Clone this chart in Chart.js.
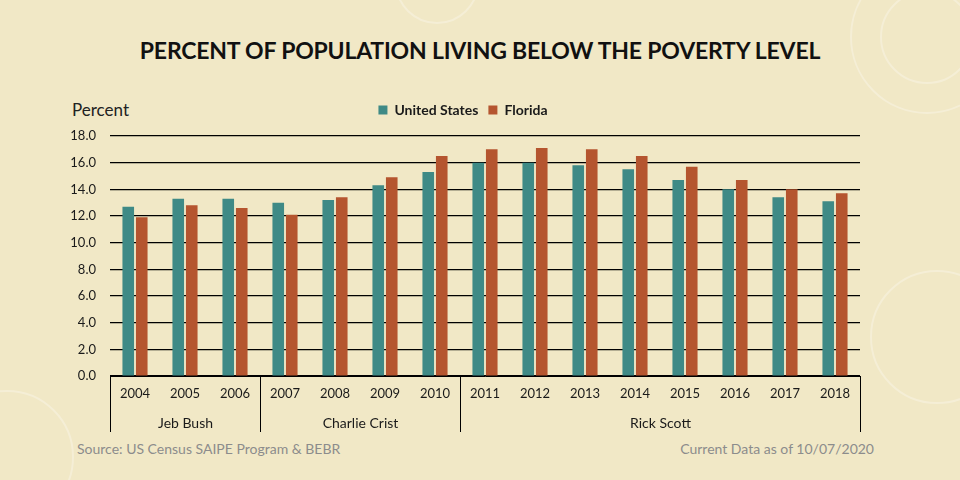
<!DOCTYPE html>
<html>
<head>
<meta charset="utf-8">
<script src="https://cdn.jsdelivr.net/npm/chart.js@4.4.1/dist/chart.umd.min.js"></script>
<style>
  html, body { margin: 0; padding: 0; background: #F1E8C6; }
  #wrap { position: relative; width: 960px; height: 480px; overflow: hidden; background: #F1E8C6; font-family: Lato, "Open Sans", sans-serif; }
  .ring { position: absolute; border-radius: 50%; border: 2px solid rgba(255,255,255,0.28); }
  #title { position: absolute; left: 0; width: 960px; top: 36px; text-align: center; font-weight: bold; font-size: 23px; color: #111; letter-spacing: -0.2px; }
  #unit { position: absolute; left: 72px; top: 99px; font-size: 17px; color: #222; }
  #source { position: absolute; left: 77px; top: 440px; font-size: 14px; color: #8c8c8c; }
  #asof { position: absolute; right: 86px; top: 440px; font-size: 14px; color: #8c8c8c; }
  canvas { position: absolute; left: 0; top: 0; }
</style>
</head>
<body>
<div id="wrap">
  <div class="ring" style="left:850px;top:-40px;width:150px;height:150px;"></div>
  <div class="ring" style="left:880px;top:-10px;width:90px;height:90px;"></div>
  <div class="ring" style="left:870px;top:270px;width:130px;height:130px;"></div>
  <div class="ring" style="left:-60px;top:390px;width:130px;height:130px;"></div>
  <div class="ring" style="left:395px;top:-60px;width:80px;height:80px;"></div>
  <div id="title">PERCENT OF POPULATION LIVING BELOW THE POVERTY LEVEL</div>
  <div id="unit">Percent</div>
  <div id="source">Source: US Census SAIPE Program &amp; BEBR</div>
  <div id="asof">Current Data as of 10/07/2020</div>
  <canvas id="povertyChart" width="960" height="480"></canvas>
</div>
<script>
// 年份与两条数据序列
const years = ['2004', '2005', '2006', '2007', '2008', '2009', '2010', '2011', '2012', '2013', '2014', '2015', '2016', '2017', '2018'];
const usValues = [12.7, 13.3, 13.3, 13.0, 13.2, 14.3, 15.3, 16.0, 16.0, 15.8, 15.5, 14.7, 14.0, 13.4, 13.1];
const flValues = [11.9, 12.8, 12.6, 12.1, 13.4, 14.9, 16.5, 17.0, 17.1, 17.0, 16.5, 15.7, 14.7, 14.0, 13.7];

// 州长分组（每组包含的年份数）
const governors = ['Jeb Bush', 'Charlie Crist', 'Rick Scott'];
const governorYears = [3, 4, 8];

// y轴刻度
const yMin = 0;
const yMax = 18;
const yStep = 2;

const textColor = '#1a1a1a';
const fontFamily = 'Lato, "Open Sans", sans-serif';

// 图例下方留出额外空间
const legendMargin = {
    id: 'legendMargin',
    beforeInit(chart) {
        const fit = chart.legend.fit;
        chart.legend.fit = function () {
            fit.bind(chart.legend)();
            this.height += 9;
        };
    }
};

// 在x轴下方绘制州长分组及分隔线
const governorGroups = {
    id: 'governorGroups',
    afterDraw(chart) {
        const x = chart.scales.x;
        const ctx = chart.ctx;
        const top = chart.chartArea.bottom;
        const half = (x.getPixelForValue(1) - x.getPixelForValue(0)) / 2;
        const edge = i => Math.round(x.getPixelForValue(i) - half) + 0.5;
        ctx.save();
        ctx.strokeStyle = '#000';
        ctx.lineWidth = 1;
        ctx.fillStyle = textColor;
        ctx.font = '14px ' + fontFamily;
        ctx.textAlign = 'center';
        ctx.textBaseline = 'middle';
        let start = 0;
        const drawEdge = px => {
            ctx.beginPath();
            ctx.moveTo(px, top);
            ctx.lineTo(px, top + 56);
            ctx.stroke();
        };
        drawEdge(edge(0));
        governors.forEach((name, k) => {
            const end = start + governorYears[k];
            drawEdge(edge(end));
            ctx.fillText(name, (edge(start) + edge(end)) / 2, top + 47);
            start = end;
        });
        ctx.restore();
    }
};

const ctx = document.getElementById('povertyChart').getContext('2d');
new Chart(ctx, {
    type: 'bar',
    data: {
        labels: years,
        datasets: [{
            label: 'United States',
            data: usValues,
            backgroundColor: '#3F8A86',
            categoryPercentage: 0.54,
            barPercentage: 0.86
        }, {
            label: 'Florida',
            data: flValues,
            backgroundColor: '#B5552F',
            categoryPercentage: 0.54,
            barPercentage: 0.86
        }]
    },
    options: {
        responsive: false,
        animation: false,
        layout: {
            padding: { top: 93, left: 0, right: 34, bottom: 0 }
        },
        scales: {
            x: {
                grid: { display: false, drawTicks: false },
                border: { display: true, color: '#000', width: 1 },
                ticks: {
                    color: textColor,
                    padding: 10,
                    font: { family: fontFamily, size: 13 }
                },
                afterFit(scale) { scale.height = 104; }
            },
            y: {
                min: yMin,
                max: yMax,
                grid: { color: '#000', lineWidth: 1.2, drawTicks: false },
                border: { display: false },
                ticks: {
                    stepSize: yStep,
                    padding: 14,
                    color: textColor,
                    font: { family: fontFamily, size: 13 },
                    callback: value => value.toFixed(1)
                },
                afterFit(scale) { scale.width = 110; }
            },
            yRight: {
                position: 'right',
                min: yMin,
                max: yMax,
                grid: { display: false, drawOnChartArea: false },
                border: { display: false },
                ticks: { display: false },
                afterFit(scale) { scale.width = 66; }
            }
        },
        plugins: {
            legend: {
                display: true,
                position: 'top',
                labels: {
                    boxWidth: 9,
                    boxHeight: 9,
                    padding: 10,
                    color: textColor,
                    font: { family: fontFamily, size: 14, weight: 'bold' }
                }
            },
            tooltip: { enabled: false }
        }
    },
    plugins: [legendMargin, governorGroups]
});
</script>
</body>
</html>
